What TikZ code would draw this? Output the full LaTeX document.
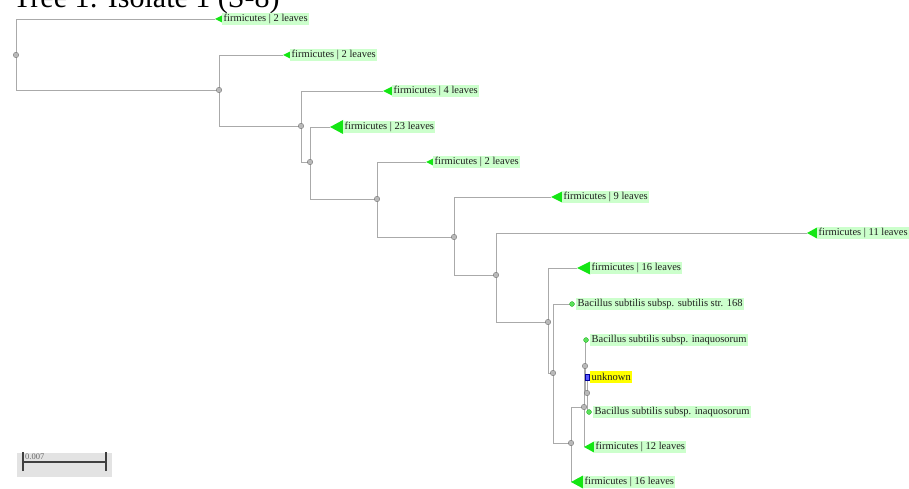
\documentclass[tikz,border=0pt]{standalone}
\usepackage{fontspec}
\setmainfont{Liberation Serif}
\definecolor{edgec}{RGB}{170,170,170}
\definecolor{leafbg}{RGB}{204,255,204}
\definecolor{trigreen}{RGB}{20,230,20}
\definecolor{dotgreen}{RGB}{90,225,90}
\definecolor{unkblue}{RGB}{90,90,255}
\definecolor{unkyellow}{RGB}{255,255,0}
\definecolor{txt}{RGB}{30,30,30}
\newcommand\leaftri[4]{%
  \fill[trigreen] (#1) -- ++(#2,-#3/2) -- ++(0,#3) -- cycle;
  \node[leaflab] (#1lab) at ([xshift=#2pt]#1) {#4};}
\begin{document}
\begin{tikzpicture}[x=1pt,y=-1pt,
  edge/.style={draw=edgec,line width=0.9pt},
  inner/.style={circle,fill=gray!55,draw=gray!80!black,line width=0.3pt,inner sep=0pt,minimum size=5.5pt},
  leaflab/.style={anchor=west,fill=leafbg,text=txt,inner xsep=1.5pt,inner ysep=0pt,minimum height=12pt,font=\fontsize{10.5}{12}\selectfont},
  gdot/.style={circle,fill=dotgreen,draw=green!60!black,line width=0.2pt,inner sep=0pt,minimum size=5pt},
  udot/.style={rectangle,fill=unkblue,draw=blue!60!black,line width=0.3pt,inner sep=0pt,minimum width=4.5pt,minimum height=5.5pt},
  unklab/.style={anchor=west,fill=unkyellow,text=txt,inner xsep=1.5pt,inner ysep=0pt,minimum height=12pt,font=\fontsize{10.5}{12}\selectfont}]
\useasboundingbox (0,0) rectangle (909,489);
\clip (0,0) rectangle (909,489);
% title (clipped at the top edge)
\node[anchor=base west,inner sep=0pt,font=\fontsize{30}{34}\selectfont] (title) at (13,8) {Tree 1: Isolate 1 (S-8)};
% internal nodes
\coordinate (n0) at (16,55);
\coordinate (n1) at (219,90);
\coordinate (n2) at (301,126);
\coordinate (n3) at (310,162);
\coordinate (n4) at (377,199);
\coordinate (n5) at (454,237);
\coordinate (n6) at (496,275);
\coordinate (n7) at (548,322);
\coordinate (n8) at (553,373);
\coordinate (n9) at (571,443);
\coordinate (nA) at (584,407);
\coordinate (nC) at (585,366);
\coordinate (nD) at (587,393);
% leaves
\coordinate (L1) at (215,19);
\coordinate (L2) at (283,55);
\coordinate (L3) at (383,91);
\coordinate (L4) at (330,127);
\coordinate (L5) at (426,162);
\coordinate (L6) at (551,197);
\coordinate (L7) at (807,233);
\coordinate (L8) at (577,268);
\coordinate (L9) at (572,304);
\coordinate (L10) at (586,340);
\coordinate (L11) at (587,377);
\coordinate (L12) at (589,412);
\coordinate (L13) at (584,447);
\coordinate (L14) at (571,482);
% edges
\draw[edge] (n0) |- (L1);
\draw[edge] (n0) |- (n1);
\draw[edge] (n1) |- (L2);
\draw[edge] (n1) |- (n2);
\draw[edge] (n2) |- (L3);
\draw[edge] (n2) |- (n3);
\draw[edge] (n3) |- (L4);
\draw[edge] (n3) |- (n4);
\draw[edge] (n4) |- (L5);
\draw[edge] (n4) |- (n5);
\draw[edge] (n5) |- (L6);
\draw[edge] (n5) |- (n6);
\draw[edge] (n6) |- (L7);
\draw[edge] (n6) |- (n7);
\draw[edge] (n7) |- (L8);
\draw[edge] (n7) |- (n8);
\draw[edge] (n8) |- (L9);
\draw[edge] (n8) |- (n9);
\draw[edge] (n9) |- (nA);
\draw[edge] (n9) |- (L14);
\draw[edge] (nA) |- (nC);
\draw[edge] (nA) |- (L13);
\draw[edge] (nC) |- (L10);
\draw[edge] (nC) |- (nD);
\draw[edge] (nD) |- (L11);
\draw[edge] (nD) |- (L12);
% internal node dots
\foreach \n in {n0,n1,n2,n3,n4,n5,n6,n7,n8,n9,nA,nC,nD}
  \node[inner] (\n dot) at (\n) {};
% collapsed clades
\leaftri{L1}{7}{7}{firmicutes | 2 leaves}
\leaftri{L2}{7}{7}{firmicutes | 2 leaves}
\leaftri{L3}{9}{9}{firmicutes | 4 leaves}
\leaftri{L4}{13}{14}{firmicutes | 23 leaves}
\leaftri{L5}{7}{7}{firmicutes | 2 leaves}
\leaftri{L6}{11}{11}{firmicutes | 9 leaves}
\leaftri{L7}{10}{11}{firmicutes | 11 leaves}
\leaftri{L8}{13}{13}{firmicutes | 16 leaves}
\leaftri{L13}{10}{11}{firmicutes | 12 leaves}
\leaftri{L14}{12}{13}{firmicutes | 16 leaves}
% single leaves
\node[gdot] (L9dot) at (L9) {};
\node[leaflab] (L9lab) at ([xshift=4pt]L9) {Bacillus subtilis subsp. subtilis str. 168};
\node[gdot] (L10dot) at (L10) {};
\node[leaflab] (L10lab) at ([xshift=4pt]L10) {Bacillus subtilis subsp. inaquosorum};
\node[udot] (L11dot) at (L11) {};
\node[unklab] (L11lab) at ([xshift=3pt]L11) {unknown};
\node[gdot] (L12dot) at (L12) {};
\node[leaflab] (L12lab) at ([xshift=4pt]L12) {Bacillus subtilis subsp. inaquosorum};
% scale bar
\fill[gray!22] (17,453) rectangle (112,477);
\coordinate (sbL) at (23,462);
\coordinate (sbR) at (106,462);
\draw[gray!50!black,line width=1.3pt] (sbL) -- (sbR);
\draw[gray!50!black,line width=1.3pt] ([yshift=-9pt]sbL) -- ([yshift=10pt]sbL);
\draw[gray!50!black,line width=1.3pt] ([yshift=-9pt]sbR) -- ([yshift=10pt]sbR);
\node[anchor=base west,inner sep=0pt,text=gray!80!black,font=\fontsize{8.5}{10}\selectfont] (sblab) at (25,459) {0.007};
\end{tikzpicture}
\end{document}
